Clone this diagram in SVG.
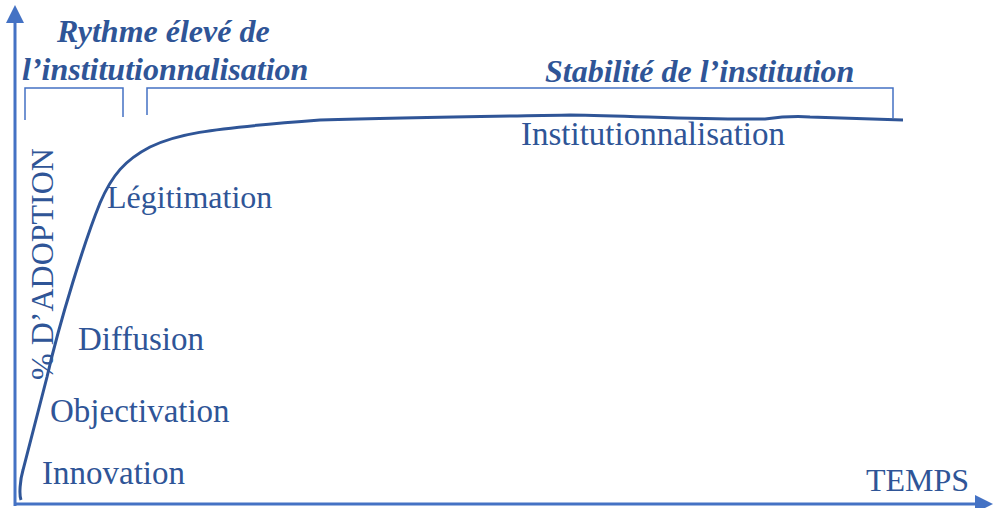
<svg xmlns="http://www.w3.org/2000/svg" width="995" height="508" viewBox="0 0 995 508">
<style>
.lbl{font-family:"Liberation Serif","Times New Roman",serif;font-size:33px;fill:#2F5597}
.hd{font-family:"Liberation Serif","Times New Roman",serif;font-size:32px;font-weight:bold;font-style:italic;fill:#2F5597}
.ax{stroke:#4472C4;stroke-width:3;fill:none}
.br{stroke:#4472C4;stroke-width:1.5;fill:none}
.cv{stroke:#2F5597;stroke-width:3;fill:none}
</style>
<defs>
<marker id="ah" markerWidth="6" markerHeight="6" refX="1" refY="3" orient="auto" markerUnits="strokeWidth">
<path d="M0,0 L6,3 L0,6 Z" fill="#4472C4"/>
</marker>
</defs>
<g id="axes">
<line class="ax" x1="15" y1="506" x2="15" y2="20" marker-end="url(#ah)"/>
<line class="ax" x1="14" y1="504" x2="978" y2="504" marker-end="url(#ah)"/>
</g>
<g id="connectors">
<path class="cv" d="M21,500 C19,495 20,480 23,470 L47,377 C60,320 85,240 100,203 C112,175 125,160 150,147 C175,135 200,129 320,120 C420,117 520,116 570,115 C640,116 700,120 765,119 C780,117 795,116 810,117 L903,120"/>
</g>
<g id="brackets">
<path class="br" d="M25,120 V88 H123 V117"/>
<path class="br" d="M147,115 V88 H893 V118"/>
</g>
<g id="headings">
<text class="hd" x="57" y="42">Rythme élevé de</text>
<text class="hd" x="22" y="80">l’institutionnalisation</text>
<text class="hd" x="545" y="82">Stabilité de l’institution</text>
</g>
<g id="n-institutionnalisation"><text class="lbl" x="521" y="145">Institutionnalisation</text></g>
<g id="n-legitimation"><text class="lbl" x="107" y="208" style="font-size:32px">Légitimation</text></g>
<g id="n-diffusion"><text class="lbl" x="78" y="350">Diffusion</text></g>
<g id="n-objectivation"><text class="lbl" x="50" y="422">Objectivation</text></g>
<g id="n-innovation"><text class="lbl" x="42" y="484">Innovation</text></g>
<g id="y-label"><text class="lbl" transform="translate(53,380) rotate(-90)" style="font-size:32px">% D’ADOPTION</text></g>
<g id="x-label"><text class="lbl" x="866" y="491" style="font-size:32px">TEMPS</text></g>
</svg>
